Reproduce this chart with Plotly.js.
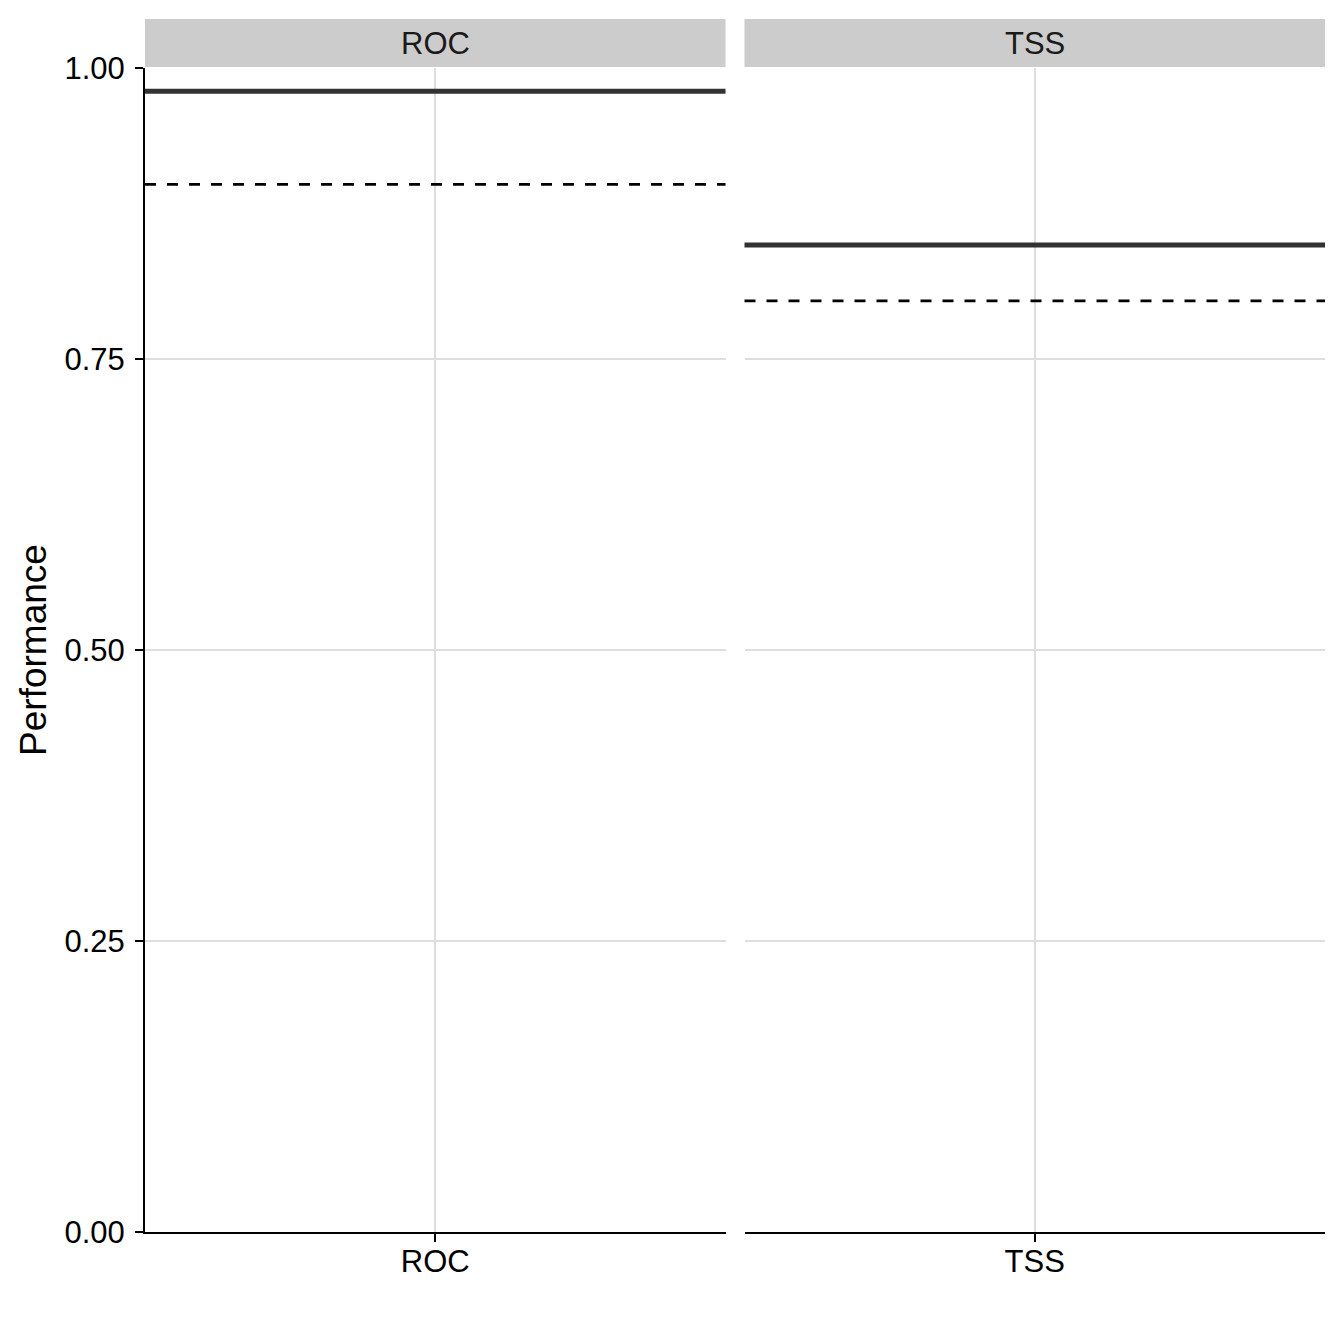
<!DOCTYPE html>
<html>
<head>
<meta charset="utf-8">
<script src="https://cdn.plot.ly/plotly-3.0.1.min.js"></script>
<style>html,body{margin:0;padding:0;background:#fff;}#chart{width:1344px;height:1344px;}</style>
</head>
<body>
<div id="chart"></div>
<script>
// ---- data ----
const metrics = ['ROC', 'TSS'];
const meanPerformance = [0.980, 0.848];      // solid lines
const thresholdPerformance = [0.900, 0.800]; // dashed lines
const yTickValues = [0, 0.25, 0.5, 0.75, 1.0];
const yTickLabels = ['0.00', '0.25', '0.50', '0.75', '1.00'];
const yTitle = 'Performance';

// ---- styles ----
const FONT = 'Liberation Sans, Arial, Helvetica, sans-serif';
const gridColor = '#dedede';
const W = 1344, H = 1344;
const margin = {l: 145, r: 19, t: 68, b: 112};
const plotW = W - margin.l - margin.r;
const plotH = H - margin.t - margin.b;
const panelGap = 19;
const panelW = (plotW - panelGap) / 2;
const domains = [[0, panelW / plotW], [(panelW + panelGap) / plotW, 1]];
const stripTop = 1 + 49 / plotH;

const traces = metrics.map((m, i) => ({
  type: 'scatter', mode: 'markers', x: [m], y: [meanPerformance[i]],
  marker: {opacity: 0}, hoverinfo: 'skip', showlegend: false,
  xaxis: i === 0 ? 'x' : 'x2', yaxis: i === 0 ? 'y' : 'y2'
}));

const shapes = [];
const annotations = [];
metrics.forEach((m, i) => {
  const xa = i === 0 ? 'x' : 'x2';
  const ya = i === 0 ? 'y' : 'y2';
  shapes.push({type: 'line', xref: xa + ' domain', yref: ya, x0: 0, x1: 1,
    y0: thresholdPerformance[i], y1: thresholdPerformance[i],
    line: {color: '#000000', width: 2.7, dash: '11px,11px'}});
  shapes.push({type: 'line', xref: xa + ' domain', yref: ya, x0: 0, x1: 1,
    y0: meanPerformance[i], y1: meanPerformance[i],
    line: {color: '#333333', width: 5}});
  shapes.push({type: 'rect', xref: xa + ' domain', yref: 'paper', x0: 0, x1: 1,
    y0: 1.0008, y1: stripTop, fillcolor: '#cccccc', line: {width: 0}});
  annotations.push({xref: xa + ' domain', yref: 'paper', x: 0.5, y: 1 + 24.5 / plotH,
    text: m, showarrow: false, xanchor: 'center', yanchor: 'middle',
    font: {family: FONT, size: 31, color: '#1a1a1a'}});
});

const xBase = {
  type: 'category', range: [-0.5, 0.5], showline: true, linecolor: '#000', linewidth: 2,
  ticks: 'outside', ticklen: 8, tickwidth: 2, tickcolor: '#000',
  showgrid: true, gridcolor: gridColor, gridwidth: 2, zeroline: false,
  tickfont: {family: FONT, size: 31, color: '#000'}, ticklabelstandoff: -7, fixedrange: true
};
const yBase = {
  range: [0, 1], tickvals: yTickValues, ticktext: yTickLabels,
  showgrid: true, gridcolor: gridColor, gridwidth: 2, zeroline: false, fixedrange: true
};

const layout = {
  width: W, height: H, margin: margin,
  paper_bgcolor: '#fff', plot_bgcolor: '#fff', showlegend: false,
  xaxis: Object.assign({}, xBase, {domain: domains[0], anchor: 'y', categoryarray: [metrics[0]]}),
  xaxis2: Object.assign({}, xBase, {domain: domains[1], anchor: 'y2', categoryarray: [metrics[1]]}),
  yaxis: Object.assign({}, yBase, {
    anchor: 'x', showline: true, linecolor: '#000', linewidth: 2,
    ticks: 'outside', ticklen: 8, tickwidth: 2, tickcolor: '#000',
    tickfont: {family: FONT, size: 31, color: '#000'}, ticklabelstandoff: 4,
    title: {text: yTitle, font: {family: FONT, size: 37, color: '#000'}, standoff: 7}
  }),
  yaxis2: Object.assign({}, yBase, {anchor: 'x2', matches: 'y', showline: false, ticks: '', showticklabels: false}),
  shapes: shapes, annotations: annotations
};

Plotly.newPlot('chart', traces, layout, {displayModeBar: false, staticPlot: true});
</script>
</body>
</html>
